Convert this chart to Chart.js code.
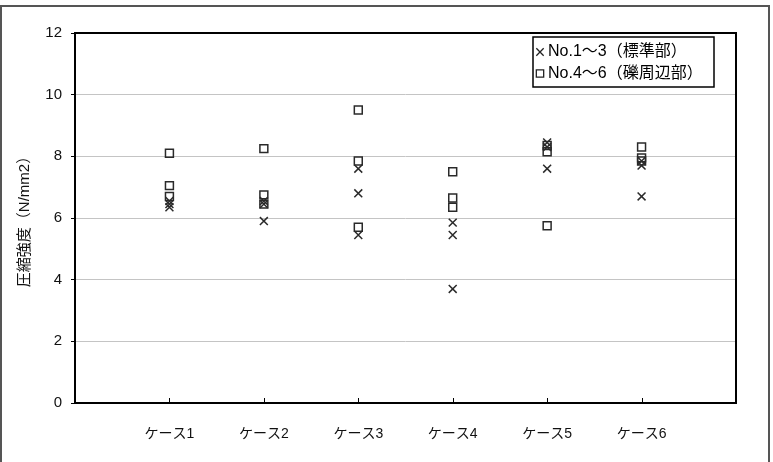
<!DOCTYPE html>
<html>
    <head>
        <title>圧縮強度</title>
        <meta charset="UTF-8">
        <style>
            body { margin: 0; background: #fff; }
        </style>
    </head>
    <body>

        <div style="width: 773px; height: 462px">
        <canvas id="myChart"></canvas>
        </div>

        <script src="https://cdn.jsdelivr.net/npm/chart.js@4/dist/chart.umd.min.js"></script>
        <script>

            var cases = ['ケース1', 'ケース2', 'ケース3', 'ケース4', 'ケース5', 'ケース6'];
            var yTicks = [0, 2, 4, 6, 8, 10, 12];
            var seriesNames = ['No.1〜3（標準部）', 'No.4〜6（礫周辺部）'];

            // No.1~3, three specimens per case
            var stdValues = [
                [6.55, 6.45, 6.35],
                [6.55, 6.45, 5.9],
                [7.6, 6.8, 5.45],
                [5.85, 5.45, 3.7],
                [8.45, 8.3, 7.6],
                [7.85, 7.7, 6.7]
            ];
            // No.4~6
            var gravelValues = [
                [8.1, 7.05, 6.7],
                [8.25, 6.75, 6.45],
                [9.5, 7.85, 5.7],
                [7.5, 6.65, 6.35],
                [8.35, 8.15, 5.75],
                [8.3, 7.95, 7.85]
            ];

            function toPoints(values) {
                var pts = [];
                for (var i = 0; i < values.length; i++) {
                    for (var j = 0; j < values[i].length; j++) {
                        pts.push({x: i + 1, y: values[i][j]});
                    }
                }
                return pts;
            }

            var FONT = '"Liberation Sans", "Noto Sans CJK JP", sans-serif';

//------------------------------------------------------------------------------
            // outer frame, plot frame, inward x ticks and the boxed legend
            var framePlugin = {
                id: 'frame',
                afterDraw: function (chart) {
                    var ctx = chart.ctx;
                    var a = chart.chartArea;
                    var xs = chart.scales.x;
                    ctx.save();
                    ctx.strokeStyle = '#000';
                    ctx.lineWidth = 1;
                    for (var i = 1; i <= cases.length; i++) {
                        var px = Math.round(xs.getPixelForValue(i)) + 0.5;
                        ctx.beginPath();
                        ctx.moveTo(px, a.bottom);
                        ctx.lineTo(px, a.bottom - 5);
                        ctx.stroke();
                    }
                    ctx.lineWidth = 2;
                    ctx.strokeRect(a.left, a.top, a.right - a.left, a.bottom - a.top);

                    ctx.strokeStyle = '#555';
                    ctx.beginPath();
                    ctx.moveTo(1, chart.height);
                    ctx.lineTo(1, 6);
                    ctx.lineTo(769, 6);
                    ctx.lineTo(769, chart.height);
                    ctx.stroke();

                    // legend
                    var bx = a.right - 203, by = a.top + 4, bw = 181, bh = 50;
                    ctx.lineWidth = 1.5;
                    ctx.strokeStyle = '#000';
                    ctx.fillStyle = '#fff';
                    ctx.fillRect(bx, by, bw, bh);
                    ctx.strokeRect(bx, by, bw, bh);
                    ctx.font = '16px ' + FONT;
                    ctx.textBaseline = 'middle';
                    ctx.textAlign = 'left';
                    chart.data.datasets.forEach(function (ds, k) {
                        var cy = by + 15 + k * 21.5;
                        ctx.strokeStyle = '#222';
                        ctx.fillStyle = 'rgba(0,0,0,0)';
                        ctx.lineWidth = 1.3;
                        Chart.helpers.drawPoint(ctx, {pointStyle: ds.pointStyle, radius: 5.2, rotation: 0, borderWidth: 1.3}, bx + 7, cy);
                        ctx.fillStyle = '#000';
                        ctx.fillText(ds.label, bx + 15, cy);
                    });
                    ctx.restore();
                }
            };

            var data = {
                datasets: [
                    {
                        label: seriesNames[0],
                        data: toPoints(stdValues),
                        pointStyle: 'crossRot',
                        pointRadius: 5.6,
                        pointBorderWidth: 1.5,
                        borderColor: '#2a2a2a',
                        backgroundColor: 'rgba(0,0,0,0)'
                    },
                    {
                        label: seriesNames[1],
                        data: toPoints(gravelValues),
                        pointStyle: 'rect',
                        pointRadius: 5.6,
                        pointBorderWidth: 1.5,
                        borderColor: '#2a2a2a',
                        backgroundColor: 'rgba(0,0,0,0)'
                    }
                ]
            };
//------------------------------------------------------------------------------
            var ctx = document.getElementById("myChart");
            var myChart = new Chart(ctx, {
                type: 'scatter',
                data: data,
                plugins: [framePlugin],
                options: {
                    responsive: true,
                    maintainAspectRatio: false,
                    animation: false,
                    layout: {padding: {left: 0, top: 33, right: 37, bottom: 0}},
                    plugins: {
                        legend: {display: false},
                        tooltip: {enabled: false}
                    },
                    scales: {
                        x: {
                            type: 'linear',
                            min: 0,
                            max: 7,
                            afterFit: function (s) { s.height = 59; },
                            afterBuildTicks: function (s) {
                                s.ticks = [0, 1, 2, 3, 4, 5, 6, 7].map(function (v) { return {value: v}; });
                            },
                            grid: {display: false},
                            border: {display: false},
                            ticks: {
                                autoSkip: false,
                                maxRotation: 0,
                                padding: 15,
                                color: '#111',
                                font: {family: FONT, size: 14},
                                callback: function (v) {
                                    return (v >= 1 && v <= cases.length) ? cases[v - 1] : '';
                                }
                            }
                        },
                        y: {
                            min: yTicks[0],
                            max: yTicks[yTicks.length - 1],
                            afterFit: function (s) { s.width = 75; },
                            afterBuildTicks: function (s) {
                                s.ticks = yTicks.map(function (v) { return {value: v}; });
                            },
                            grid: {
                                color: '#c4c4c4',
                                lineWidth: 1,
                                tickColor: '#000',
                                tickLength: 4
                            },
                            border: {display: false},
                            ticks: {
                                padding: 9,
                                color: '#111',
                                font: {family: FONT, size: 15}
                            },
                            title: {
                                display: true,
                                text: '圧縮強度（N/mm2）',
                                color: '#111',
                                font: {family: FONT, size: 15},
                                padding: {top: 16, bottom: 0}
                            }
                        }
                    }
                }
            });

        </script>
    </body>
</html>
